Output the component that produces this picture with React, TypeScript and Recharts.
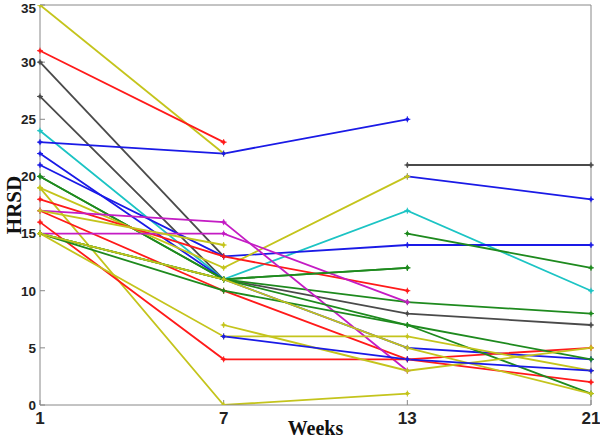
import React from "react";
import {
  LineChart,
  Line,
  XAxis,
  YAxis,
  ReferenceLine,
  Label,
} from "recharts";

// week of visit (categorical, equally spaced like the original plot)
const weeks = ["1", "7", "13", "21"];
const yTicks = [0, 5, 10, 15, 20, 25, 30, 35];

// HRSD score per patient at weeks 1, 7, 13, 21 (null = no visit)
const p01 = [35, 22, null, null];
const p02 = [31, 23, null, null];
const p03 = [30, 13, null, null];
const p04 = [27, 11, 8, 7];
const p05 = [24, 11, 17, 10];
const p06 = [23, 22, 25, null];
const p07 = [22, 11, 5, 4];
const p08 = [21, 13, 14, 14];
const p09 = [null, null, 20, 18];
const p10 = [null, null, 21, 21];
const p11 = [20, 11, 12, null];
const p12 = [20, 11, 9, 8];
const p13 = [19, 12, 20, null];
const p14 = [19, 0, 1, null];
const p15 = [18, 13, 10, null];
const p16 = [17, 10, 4, 2];
const p17 = [17, 16, 3, null];
const p18 = [15, 15, 9, null];
const p19 = [16, 4, 4, 5];
const p20 = [17, 14, null, null];
const p21 = [15, 11, 12, null];
const p22 = [15, 11, 7, 4];
const p23 = [15, 10, 7, 1];
const p24 = [null, null, 15, 12];
const p25 = [null, 7, 3, 5];
const p26 = [15, 6, 6, 3];
const p27 = [15, 11, 5, 1];
const p28 = [null, 6, 4, 3];

const YEL = "#c4c41c";
const RED = "#ff1a1a";
const GRY = "#4a4a4a";
const CYN = "#1cc4c4";
const BLU = "#1a1ae6";
const GRN = "#1e8a1e";
const MAG = "#c41cc4";

const patients = [
  { key: "p01", values: p01, color: YEL },
  { key: "p02", values: p02, color: RED },
  { key: "p03", values: p03, color: GRY },
  { key: "p04", values: p04, color: GRY },
  { key: "p05", values: p05, color: CYN },
  { key: "p06", values: p06, color: BLU },
  { key: "p07", values: p07, color: BLU },
  { key: "p08", values: p08, color: BLU },
  { key: "p09", values: p09, color: BLU },
  { key: "p10", values: p10, color: GRY },
  { key: "p11", values: p11, color: GRN },
  { key: "p12", values: p12, color: GRN },
  { key: "p13", values: p13, color: YEL },
  { key: "p14", values: p14, color: YEL },
  { key: "p15", values: p15, color: RED },
  { key: "p16", values: p16, color: RED },
  { key: "p17", values: p17, color: MAG },
  { key: "p18", values: p18, color: MAG },
  { key: "p19", values: p19, color: RED },
  { key: "p20", values: p20, color: YEL },
  { key: "p21", values: p21, color: GRN },
  { key: "p22", values: p22, color: GRN },
  { key: "p23", values: p23, color: GRN },
  { key: "p24", values: p24, color: GRN },
  { key: "p25", values: p25, color: YEL },
  { key: "p26", values: p26, color: YEL },
  { key: "p27", values: p27, color: YEL },
  { key: "p28", values: p28, color: BLU },
];

const data = weeks.map((w, i) => {
  const row: Record<string, any> = { week: w };
  patients.forEach((p) => {
    row[p.key] = p.values[i];
  });
  return row;
});

const PlusDot = (color: string) => (props: any) => {
  const { cx, cy, index } = props;
  if (cx == null || cy == null || props.value == null) return <g key={index} />;
  return (
    <g key={index}>
      <circle cx={cx} cy={cy} r={1.8} fill={color} />
      <path
        d={`M${cx - 3},${cy}H${cx + 3}M${cx},${cy - 3}V${cy + 3}`}
        stroke={color}
        strokeWidth={1}
      />
    </g>
  );
};

const tickFont = {
  fontFamily: "Liberation Sans, Arial, sans-serif",
  fontWeight: "bold" as const,
  fill: "#222",
};

const titleFont = {
  fontFamily: "Liberation Serif, Times New Roman, serif",
  fontWeight: "bold" as const,
  fontSize: 20,
  fill: "#111",
};

export default function App() {
  return (
    <div style={{ position: "absolute", left: 0, top: 0, background: "#fff" }}>
      <LineChart
        width={600}
        height={440}
        data={data}
        margin={{ top: 5, right: 9, bottom: 0, left: 0 }}
      >
        <XAxis
          dataKey="week"
          type="category"
          padding={{ left: 0, right: 0 }}
          height={35}
          interval={0}
          stroke="#888"
          tickSize={-5}
          tickMargin={12}
          tick={{ ...tickFont, fontSize: 17 }}
        >
          <Label
            value="Weeks"
            position="insideBottom"
            offset={5}
            style={titleFont}
          />
        </XAxis>
        <YAxis
          type="number"
          domain={[0, 35]}
          ticks={yTicks}
          width={40}
          stroke="#888"
          tickSize={-5}
          tickMargin={9}
          tick={{ ...tickFont, fontSize: 13.5 }}
          allowDataOverflow
        >
          <Label
            value="HRSD"
            angle={-90}
            position="insideLeft"
            offset={14}
            style={{ ...titleFont, fontSize: 21, textAnchor: "middle" }}
          />
        </YAxis>
        <ReferenceLine y={35} stroke="#888" />
        <ReferenceLine x="21" stroke="#888" />
        {patients.map((p) => (
          <Line
            key={p.key}
            dataKey={p.key}
            stroke={p.color}
            strokeWidth={1.8}
            dot={PlusDot(p.color)}
            activeDot={false}
            connectNulls={false}
            isAnimationActive={false}
          />
        ))}
      </LineChart>
    </div>
  );
}
